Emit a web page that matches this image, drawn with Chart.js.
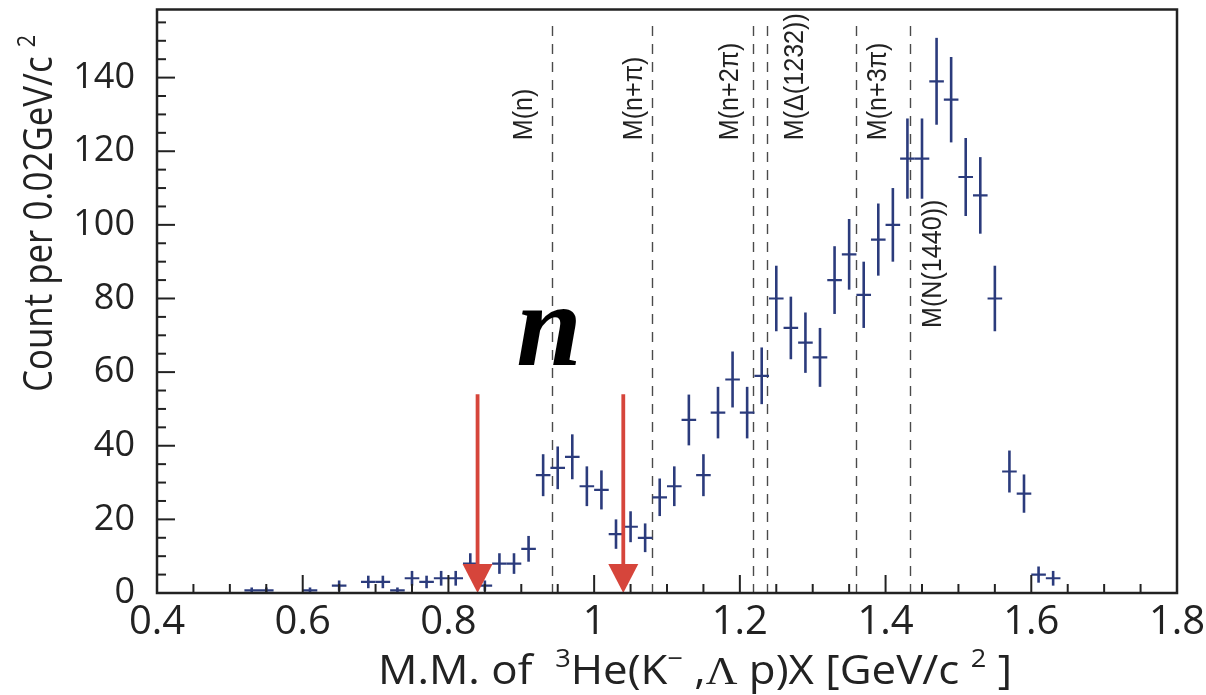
<!DOCTYPE html>
<html>
<head>
<meta charset="utf-8">
<script src="https://cdn.jsdelivr.net/npm/chart.js@4.4.0/dist/chart.umd.min.js"></script>
<style>
   body { margin: 0; background: #fff; }
   #wrap { width: 1206px; height: 695px; position: relative; }
</style>
</head>
<body>
<div id="wrap"><canvas id="chart"></canvas></div>
<script>
// bin centres of the missing mass histogram, bins 0.02 GeV/c2 wide
const binCenters = [0.53, 0.55, 0.61, 0.65, 0.69, 0.71, 0.73, 0.75, 0.77, 0.79, 0.81, 0.83, 0.85,
   0.87, 0.89, 0.91, 0.93, 0.95, 0.97, 0.99, 1.01, 1.03, 1.05, 1.07, 1.09, 1.11, 1.13, 1.15,
   1.17, 1.19, 1.21, 1.23, 1.25, 1.27, 1.29, 1.31, 1.33, 1.35, 1.37, 1.39, 1.41, 1.43, 1.45,
   1.47, 1.49, 1.51, 1.53, 1.55, 1.57, 1.59, 1.61, 1.63];
const counts = [0.7, 0.7, 0.7, 2, 3, 3, 0.7, 4, 3, 4, 4, 8, 2,
   8, 8, 12, 32, 34, 37, 29, 28, 16, 18, 15, 26, 29, 47, 32,
   49, 58, 49, 59, 80, 72, 68, 64, 85, 92, 81, 96, 100, 118, 118,
   139, 134, 113, 108, 80, 33, 27, 5, 4];
const countErrors = [0.8, 0.8, 0.8, 1.4, 1.7, 1.7, 0.8, 2, 1.7, 2, 2, 2.8, 1.4,
   2.8, 2.8, 3.5, 5.7, 5.8, 6.1, 5.4, 5.3, 4, 4.2, 3.9, 5.1, 5.4, 6.9, 5.7,
   7, 7.6, 7, 7.7, 8.9, 8.5, 8.2, 8, 9.2, 9.6, 9, 9.8, 10, 10.9, 10.9,
   11.8, 11.6, 10.6, 10.4, 8.9, 5.7, 5.2, 2.2, 2];

// threshold lines
const thresholdNames = ["M(n)", "M(n+π)", "M(n+2π)", "M(Δ(1232))", "M(n+3π)", "M(N(1440))"];
const thresholdMasses = [0.942, 1.080, 1.218, 1.237, 1.360, 1.434];

// red arrows
const arrowMasses = [0.84, 1.04];
const arrowTop = 54;

const xTicks = [0.4, 0.6, 0.8, 1.0, 1.2, 1.4, 1.6, 1.8];
const yTicks = [0, 20, 40, 60, 80, 100, 120, 140];

const navy = "#2b3b7c";
const red = "#d6453b";
const ink = "#222";
const sans = "'Open Sans'";

// text with superscripts, drawn from the current origin on the baseline
function richWidth(ctx, parts, size) {
   let w = 0;
   parts.forEach((p) => {
      ctx.font = `${p.sup ? size * 0.62 : size}px ${p.serif ? "'Liberation Serif'" : sans}`;
      w += ctx.measureText(p.t).width;
   });
   return w;
}
function drawRich(ctx, parts, size, x0) {
   let cx = x0;
   parts.forEach((p) => {
      ctx.font = `${p.sup ? size * 0.62 : size}px ${p.serif ? "'Liberation Serif'" : sans}`;
      ctx.fillText(p.t, cx, p.sup ? -size * 0.42 : 0);
      cx += ctx.measureText(p.t).width;
   });
}

const xTitle = [
   { t: "M.M. of  " }, { t: "3", sup: true }, { t: "He(K" }, { t: "−", sup: true }, { t: " ," },
   { t: "Λ", serif: true }, { t: " p)X [GeV/c " }, { t: "2", sup: true }, { t: " ]" },
];
const yTitle = [{ t: "Count per 0.02GeV/c " }, { t: "2", sup: true }];

const decor = {
   id: "decor",
   beforeDatasetsDraw(chart) {
      const { ctx, scales: { x, y } } = chart;
      ctx.save();
      // dashed threshold lines
      ctx.strokeStyle = "#4a4a4a";
      ctx.lineWidth = 1.4;
      ctx.setLineDash([10, 8]);
      thresholdMasses.forEach((m) => {
         const px = Math.round(x.getPixelForValue(m)) + 0.5;
         ctx.beginPath();
         ctx.moveTo(px, y.getPixelForValue(154));
         ctx.lineTo(px, y.getPixelForValue(0));
         ctx.stroke();
      });
      ctx.setLineDash([]);

      // rotated labels next to the lines
      const shift = [-20, -10, -15, 36, 30, 31];
      const base = [123, 123, 123, 123, 123, 72];
      ctx.fillStyle = ink;
      ctx.font = "27px 'Liberation Sans'";
      ctx.textAlign = "left";
      ctx.textBaseline = "alphabetic";
      thresholdNames.forEach((name, i) => {
         ctx.save();
         ctx.translate(x.getPixelForValue(thresholdMasses[i]) + shift[i], y.getPixelForValue(base[i]));
         ctx.rotate(-Math.PI / 2);
         ctx.scale(0.93, 1);
         ctx.fillText(name, 0, 0);
         ctx.restore();
      });
      ctx.restore();
   },
   afterDatasetsDraw(chart) {
      const { ctx, chartArea: a, scales: { x, y } } = chart;
      ctx.save();
      // vertical error bars
      ctx.strokeStyle = navy;
      ctx.lineWidth = 2.6;
      binCenters.forEach((c, i) => {
         const px = x.getPixelForValue(c);
         ctx.beginPath();
         ctx.moveTo(px, y.getPixelForValue(Math.max(0, counts[i] - countErrors[i])));
         ctx.lineTo(px, y.getPixelForValue(counts[i] + countErrors[i]));
         ctx.stroke();
      });

      // red arrows
      ctx.strokeStyle = red;
      ctx.fillStyle = red;
      ctx.lineWidth = 3.8;
      arrowMasses.forEach((m) => {
         const px = x.getPixelForValue(m);
         const y0 = y.getPixelForValue(0);
         ctx.beginPath();
         ctx.moveTo(px, y.getPixelForValue(arrowTop));
         ctx.lineTo(px, y0 - 26);
         ctx.stroke();
         ctx.beginPath();
         ctx.moveTo(px - 15, y0 - 29);
         ctx.lineTo(px + 15, y0 - 29);
         ctx.lineTo(px, y0);
         ctx.closePath();
         ctx.fill();
      });

      // big italic n
      ctx.fillStyle = "#000";
      ctx.font = "italic bold 118px 'Liberation Serif'";
      ctx.textAlign = "left";
      ctx.textBaseline = "alphabetic";
      ctx.fillText("n", x.getPixelForValue(0.893), y.getPixelForValue(62));

      // frame
      ctx.strokeStyle = ink;
      ctx.lineWidth = 2.5;
      ctx.strokeRect(a.left, a.top, a.right - a.left, a.bottom - a.top);

      // inward ticks
      ctx.lineWidth = 2;
      for (let v = 0.4; v <= 1.8001; v += 0.05) {
         const px = x.getPixelForValue(v);
         const major = Math.abs(v * 5 - Math.round(v * 5)) < 1e-6;
         ctx.beginPath();
         ctx.moveTo(px, a.bottom);
         ctx.lineTo(px, a.bottom - (major ? 18 : 9));
         ctx.stroke();
      }
      for (let v = 0; v <= 155; v += 5) {
         const py = y.getPixelForValue(v);
         ctx.beginPath();
         ctx.moveTo(a.left, py);
         ctx.lineTo(a.left + (v % 20 === 0 ? 18 : 9), py);
         ctx.stroke();
      }

      // axis titles
      ctx.fillStyle = ink;
      ctx.textAlign = "left";
      ctx.textBaseline = "alphabetic";
      const tx = 41;
      const w = richWidth(ctx, xTitle, tx);
      const sx = 634 / w;
      ctx.save();
      ctx.translate(378, 684);
      ctx.scale(sx, 1);
      drawRich(ctx, xTitle, tx, 0);
      ctx.restore();

      const ty = 40;
      const wy = richWidth(ctx, yTitle, ty);
      ctx.save();
      ctx.translate(52, 392);
      ctx.rotate(-Math.PI / 2);
      ctx.scale(357 / wy, 1);
      drawRich(ctx, yTitle, ty, 0);
      ctx.restore();
      ctx.restore();
   },
};

const chart = new Chart(document.getElementById("chart"), {
   type: "scatter",
   data: {
      datasets: [
         {
            data: binCenters.map((c, i) => ({ x: c, y: counts[i] })),
            pointStyle: "line",
            pointRadius: 7.3,
            pointBorderColor: navy,
            pointBackgroundColor: navy,
            pointBorderWidth: 2.2,
            showLine: false,
         },
      ],
   },
   options: {
      responsive: true,
      maintainAspectRatio: false,
      animation: false,
      events: [],
      layout: { padding: { top: 8, right: 29, left: 0, bottom: 0 } },
      plugins: { legend: { display: false }, tooltip: { enabled: false } },
      scales: {
         x: {
            type: "linear",
            min: 0.4,
            max: 1.8,
            grid: { display: false, drawTicks: false },
            border: { display: false },
            afterBuildTicks: (axis) => { axis.ticks = xTicks.map((v) => ({ value: v })); },
            ticks: {
               padding: 6,
               color: ink,
               maxRotation: 0,
               autoSkip: false,
               font: { family: sans, size: 40 },
               callback: (v) => String(+v.toFixed(1)),
            },
            afterFit: (axis) => {
               axis.height = 102;
               axis.paddingLeft = 0;
               axis.paddingRight = 0;
            },
         },
         y: {
            min: 0,
            max: 158.5,
            grid: { display: false, drawTicks: false },
            border: { display: false },
            afterBuildTicks: (axis) => { axis.ticks = yTicks.map((v) => ({ value: v })); },
            ticks: {
               padding: 22,
               color: ink,
               autoSkip: false,
               font: { family: sans, size: 36 },
            },
            afterFit: (axis) => {
               axis.width = 157;
               axis.paddingTop = 0;
               axis.paddingBottom = 0;
            },
         },
      },
   },
   plugins: [decor],
});
</script>
</body>
</html>
